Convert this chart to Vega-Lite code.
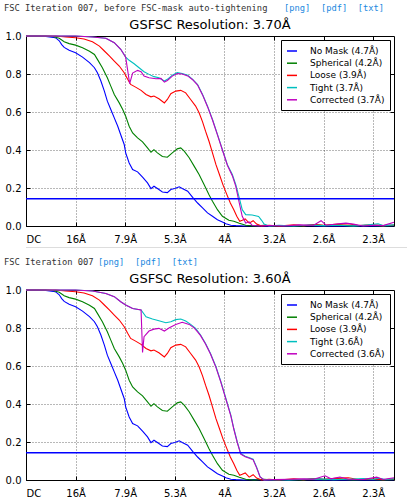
{
  "$schema": "https://vega.github.io/schema/vega-lite/v6.json",
  "background": "white",
  "padding": {"left": 4, "top": 4, "right": 0, "bottom": 0},
  "datasets": {
    "common": [
      {"s":"No Mask (4.7Å)","u":0,"v":1.0},{"s":"No Mask (4.7Å)","u":0.2,"v":1.0},{"s":"No Mask (4.7Å)","u":0.4,"v":0.998},{"s":"No Mask (4.7Å)","u":0.55,"v":0.993},{"s":"No Mask (4.7Å)","u":0.6,"v":0.99},{"s":"No Mask (4.7Å)","u":0.67,"v":0.975},{"s":"No Mask (4.7Å)","u":0.72,"v":0.955},{"s":"No Mask (4.7Å)","u":0.77,"v":0.94},{"s":"No Mask (4.7Å)","u":0.87,"v":0.925},{"s":"No Mask (4.7Å)","u":1.0,"v":0.912},{"s":"No Mask (4.7Å)","u":1.14,"v":0.889},{"s":"No Mask (4.7Å)","u":1.28,"v":0.86},{"s":"No Mask (4.7Å)","u":1.38,"v":0.833},{"s":"No Mask (4.7Å)","u":1.44,"v":0.807},{"s":"No Mask (4.7Å)","u":1.51,"v":0.763},{"s":"No Mask (4.7Å)","u":1.58,"v":0.71},{"s":"No Mask (4.7Å)","u":1.64,"v":0.657},{"s":"No Mask (4.7Å)","u":1.71,"v":0.613},{"s":"No Mask (4.7Å)","u":1.78,"v":0.569},{"s":"No Mask (4.7Å)","u":1.85,"v":0.525},{"s":"No Mask (4.7Å)","u":1.91,"v":0.48},{"s":"No Mask (4.7Å)","u":1.98,"v":0.429},{"s":"No Mask (4.7Å)","u":2.01,"v":0.385},{"s":"No Mask (4.7Å)","u":2.08,"v":0.332},{"s":"No Mask (4.7Å)","u":2.15,"v":0.297},{"s":"No Mask (4.7Å)","u":2.25,"v":0.285},{"s":"No Mask (4.7Å)","u":2.35,"v":0.257},{"s":"No Mask (4.7Å)","u":2.45,"v":0.227},{"s":"No Mask (4.7Å)","u":2.52,"v":0.197},{"s":"No Mask (4.7Å)","u":2.58,"v":0.209},{"s":"No Mask (4.7Å)","u":2.65,"v":0.197},{"s":"No Mask (4.7Å)","u":2.75,"v":0.179},{"s":"No Mask (4.7Å)","u":2.85,"v":0.176},{"s":"No Mask (4.7Å)","u":2.92,"v":0.192},{"s":"No Mask (4.7Å)","u":3.0,"v":0.197},{"s":"No Mask (4.7Å)","u":3.09,"v":0.206},{"s":"No Mask (4.7Å)","u":3.15,"v":0.197},{"s":"No Mask (4.7Å)","u":3.26,"v":0.183},{"s":"No Mask (4.7Å)","u":3.36,"v":0.151},{"s":"No Mask (4.7Å)","u":3.46,"v":0.121},{"s":"No Mask (4.7Å)","u":3.56,"v":0.095},{"s":"No Mask (4.7Å)","u":3.66,"v":0.069},{"s":"No Mask (4.7Å)","u":3.76,"v":0.051},{"s":"No Mask (4.7Å)","u":3.86,"v":0.033},{"s":"No Mask (4.7Å)","u":3.96,"v":0.021},{"s":"No Mask (4.7Å)","u":4.03,"v":0.012},{"s":"No Mask (4.7Å)","u":4.13,"v":0.004},{"s":"No Mask (4.7Å)","u":4.23,"v":0.002},{"s":"No Mask (4.7Å)","u":4.4,"v":0.0},{"s":"No Mask (4.7Å)","u":4.6,"v":0.003},{"s":"No Mask (4.7Å)","u":4.8,"v":0.0},{"s":"No Mask (4.7Å)","u":5.0,"v":0.002},{"s":"No Mask (4.7Å)","u":5.3,"v":0.0},{"s":"No Mask (4.7Å)","u":5.6,"v":0.003},{"s":"No Mask (4.7Å)","u":5.9,"v":0.0},{"s":"No Mask (4.7Å)","u":6.2,"v":0.002},{"s":"No Mask (4.7Å)","u":6.5,"v":0.0},{"s":"No Mask (4.7Å)","u":6.8,"v":0.002},{"s":"No Mask (4.7Å)","u":7.1,"v":0.0},{"s":"No Mask (4.7Å)","u":7.42,"v":0.002},
      {"s":"Spherical (4.2Å)","u":0,"v":1.0},{"s":"Spherical (4.2Å)","u":0.4,"v":1.0},{"s":"Spherical (4.2Å)","u":0.54,"v":0.997},{"s":"Spherical (4.2Å)","u":0.67,"v":0.988},{"s":"Spherical (4.2Å)","u":0.77,"v":0.97},{"s":"Spherical (4.2Å)","u":0.87,"v":0.96},{"s":"Spherical (4.2Å)","u":1.0,"v":0.952},{"s":"Spherical (4.2Å)","u":1.14,"v":0.938},{"s":"Spherical (4.2Å)","u":1.28,"v":0.92},{"s":"Spherical (4.2Å)","u":1.38,"v":0.903},{"s":"Spherical (4.2Å)","u":1.44,"v":0.877},{"s":"Spherical (4.2Å)","u":1.54,"v":0.833},{"s":"Spherical (4.2Å)","u":1.64,"v":0.78},{"s":"Spherical (4.2Å)","u":1.71,"v":0.736},{"s":"Spherical (4.2Å)","u":1.78,"v":0.692},{"s":"Spherical (4.2Å)","u":1.88,"v":0.648},{"s":"Spherical (4.2Å)","u":1.95,"v":0.613},{"s":"Spherical (4.2Å)","u":2.01,"v":0.578},{"s":"Spherical (4.2Å)","u":2.08,"v":0.525},{"s":"Spherical (4.2Å)","u":2.15,"v":0.49},{"s":"Spherical (4.2Å)","u":2.25,"v":0.464},{"s":"Spherical (4.2Å)","u":2.35,"v":0.443},{"s":"Spherical (4.2Å)","u":2.45,"v":0.411},{"s":"Spherical (4.2Å)","u":2.52,"v":0.388},{"s":"Spherical (4.2Å)","u":2.58,"v":0.402},{"s":"Spherical (4.2Å)","u":2.65,"v":0.385},{"s":"Spherical (4.2Å)","u":2.75,"v":0.366},{"s":"Spherical (4.2Å)","u":2.85,"v":0.362},{"s":"Spherical (4.2Å)","u":2.95,"v":0.385},{"s":"Spherical (4.2Å)","u":3.05,"v":0.406},{"s":"Spherical (4.2Å)","u":3.12,"v":0.411},{"s":"Spherical (4.2Å)","u":3.19,"v":0.394},{"s":"Spherical (4.2Å)","u":3.29,"v":0.359},{"s":"Spherical (4.2Å)","u":3.39,"v":0.315},{"s":"Spherical (4.2Å)","u":3.49,"v":0.271},{"s":"Spherical (4.2Å)","u":3.59,"v":0.218},{"s":"Spherical (4.2Å)","u":3.69,"v":0.165},{"s":"Spherical (4.2Å)","u":3.76,"v":0.13},{"s":"Spherical (4.2Å)","u":3.86,"v":0.086},{"s":"Spherical (4.2Å)","u":3.96,"v":0.051},{"s":"Spherical (4.2Å)","u":4.09,"v":0.03},{"s":"Spherical (4.2Å)","u":4.19,"v":0.025},{"s":"Spherical (4.2Å)","u":4.3,"v":0.014},{"s":"Spherical (4.2Å)","u":4.43,"v":0.004},{"s":"Spherical (4.2Å)","u":4.6,"v":0.0},{"s":"Spherical (4.2Å)","u":4.8,"v":0.004},{"s":"Spherical (4.2Å)","u":5.0,"v":0.0},{"s":"Spherical (4.2Å)","u":5.3,"v":0.003},{"s":"Spherical (4.2Å)","u":5.6,"v":0.0},{"s":"Spherical (4.2Å)","u":5.8,"v":0.008},{"s":"Spherical (4.2Å)","u":6.0,"v":0.002},{"s":"Spherical (4.2Å)","u":6.3,"v":0.006},{"s":"Spherical (4.2Å)","u":6.6,"v":0.0},{"s":"Spherical (4.2Å)","u":6.9,"v":0.004},{"s":"Spherical (4.2Å)","u":7.2,"v":0.0},{"s":"Spherical (4.2Å)","u":7.42,"v":0.003},
      {"s":"Loose (3.9Å)","u":0,"v":1.0},{"s":"Loose (3.9Å)","u":0.6,"v":1.0},{"s":"Loose (3.9Å)","u":0.8,"v":0.995},{"s":"Loose (3.9Å)","u":1.0,"v":0.991},{"s":"Loose (3.9Å)","u":1.17,"v":0.984},{"s":"Loose (3.9Å)","u":1.34,"v":0.97},{"s":"Loose (3.9Å)","u":1.48,"v":0.947},{"s":"Loose (3.9Å)","u":1.58,"v":0.921},{"s":"Loose (3.9Å)","u":1.68,"v":0.895},{"s":"Loose (3.9Å)","u":1.78,"v":0.868},{"s":"Loose (3.9Å)","u":1.88,"v":0.842},{"s":"Loose (3.9Å)","u":1.98,"v":0.807},{"s":"Loose (3.9Å)","u":2.05,"v":0.772},{"s":"Loose (3.9Å)","u":2.11,"v":0.745},{"s":"Loose (3.9Å)","u":2.21,"v":0.731},{"s":"Loose (3.9Å)","u":2.32,"v":0.714},{"s":"Loose (3.9Å)","u":2.42,"v":0.692},{"s":"Loose (3.9Å)","u":2.52,"v":0.68},{"s":"Loose (3.9Å)","u":2.58,"v":0.684},{"s":"Loose (3.9Å)","u":2.68,"v":0.67},{"s":"Loose (3.9Å)","u":2.79,"v":0.648},{"s":"Loose (3.9Å)","u":2.85,"v":0.666},{"s":"Loose (3.9Å)","u":2.92,"v":0.696},{"s":"Loose (3.9Å)","u":3.02,"v":0.71},{"s":"Loose (3.9Å)","u":3.12,"v":0.714},{"s":"Loose (3.9Å)","u":3.22,"v":0.701},{"s":"Loose (3.9Å)","u":3.32,"v":0.666},{"s":"Loose (3.9Å)","u":3.42,"v":0.631},{"s":"Loose (3.9Å)","u":3.49,"v":0.596},{"s":"Loose (3.9Å)","u":3.56,"v":0.548},{"s":"Loose (3.9Å)","u":3.62,"v":0.499},{"s":"Loose (3.9Å)","u":3.69,"v":0.446},{"s":"Loose (3.9Å)","u":3.76,"v":0.385},{"s":"Loose (3.9Å)","u":3.83,"v":0.323},{"s":"Loose (3.9Å)","u":3.9,"v":0.271},{"s":"Loose (3.9Å)","u":3.97,"v":0.218},{"s":"Loose (3.9Å)","u":4.05,"v":0.165},{"s":"Loose (3.9Å)","u":4.12,"v":0.121},{"s":"Loose (3.9Å)","u":4.19,"v":0.086},{"s":"Loose (3.9Å)","u":4.25,"v":0.051},{"s":"Loose (3.9Å)","u":4.31,"v":0.025},{"s":"Loose (3.9Å)","u":4.36,"v":0.03},{"s":"Loose (3.9Å)","u":4.42,"v":0.037},{"s":"Loose (3.9Å)","u":4.5,"v":0.015},{"s":"Loose (3.9Å)","u":4.58,"v":0.028},{"s":"Loose (3.9Å)","u":4.65,"v":0.01},{"s":"Loose (3.9Å)","u":4.75,"v":0.0},{"s":"Loose (3.9Å)","u":4.9,"v":0.004},{"s":"Loose (3.9Å)","u":5.1,"v":0.0},{"s":"Loose (3.9Å)","u":5.4,"v":0.006},{"s":"Loose (3.9Å)","u":5.6,"v":0.002},{"s":"Loose (3.9Å)","u":5.85,"v":0.008},{"s":"Loose (3.9Å)","u":6.0,"v":0.004},{"s":"Loose (3.9Å)","u":6.3,"v":0.01},{"s":"Loose (3.9Å)","u":6.5,"v":0.012},{"s":"Loose (3.9Å)","u":6.7,"v":0.003},{"s":"Loose (3.9Å)","u":7.0,"v":0.006},{"s":"Loose (3.9Å)","u":7.2,"v":0.002},{"s":"Loose (3.9Å)","u":7.42,"v":0.005}
    ],
    "p1": [
      {"s":"Tight (3.7Å)","u":0,"v":1.0},{"s":"Tight (3.7Å)","u":1.0,"v":1.0},{"s":"Tight (3.7Å)","u":1.34,"v":0.995},{"s":"Tight (3.7Å)","u":1.61,"v":0.988},{"s":"Tight (3.7Å)","u":1.78,"v":0.965},{"s":"Tight (3.7Å)","u":1.91,"v":0.93},{"s":"Tight (3.7Å)","u":2.01,"v":0.889},{"s":"Tight (3.7Å)","u":2.08,"v":0.872},{"s":"Tight (3.7Å)","u":2.18,"v":0.854},{"s":"Tight (3.7Å)","u":2.28,"v":0.833},{"s":"Tight (3.7Å)","u":2.38,"v":0.812},{"s":"Tight (3.7Å)","u":2.48,"v":0.798},{"s":"Tight (3.7Å)","u":2.58,"v":0.786},{"s":"Tight (3.7Å)","u":2.68,"v":0.78},{"s":"Tight (3.7Å)","u":2.79,"v":0.763},{"s":"Tight (3.7Å)","u":2.85,"v":0.772},{"s":"Tight (3.7Å)","u":2.95,"v":0.794},{"s":"Tight (3.7Å)","u":3.05,"v":0.807},{"s":"Tight (3.7Å)","u":3.15,"v":0.803},{"s":"Tight (3.7Å)","u":3.26,"v":0.794},{"s":"Tight (3.7Å)","u":3.36,"v":0.772},{"s":"Tight (3.7Å)","u":3.46,"v":0.745},{"s":"Tight (3.7Å)","u":3.56,"v":0.692},{"s":"Tight (3.7Å)","u":3.66,"v":0.631},{"s":"Tight (3.7Å)","u":3.76,"v":0.561},{"s":"Tight (3.7Å)","u":3.86,"v":0.482},{"s":"Tight (3.7Å)","u":3.96,"v":0.402},{"s":"Tight (3.7Å)","u":4.06,"v":0.323},{"s":"Tight (3.7Å)","u":4.16,"v":0.271},{"s":"Tight (3.7Å)","u":4.23,"v":0.218},{"s":"Tight (3.7Å)","u":4.3,"v":0.148},{"s":"Tight (3.7Å)","u":4.36,"v":0.086},{"s":"Tight (3.7Å)","u":4.43,"v":0.06},{"s":"Tight (3.7Å)","u":4.56,"v":0.058},{"s":"Tight (3.7Å)","u":4.69,"v":0.05},{"s":"Tight (3.7Å)","u":4.75,"v":0.03},{"s":"Tight (3.7Å)","u":4.8,"v":0.01},{"s":"Tight (3.7Å)","u":4.9,"v":0.0},{"s":"Tight (3.7Å)","u":5.1,"v":0.004},{"s":"Tight (3.7Å)","u":5.4,"v":0.0},{"s":"Tight (3.7Å)","u":5.7,"v":0.005},{"s":"Tight (3.7Å)","u":6.0,"v":0.002},{"s":"Tight (3.7Å)","u":6.3,"v":0.004},{"s":"Tight (3.7Å)","u":6.6,"v":0.0},{"s":"Tight (3.7Å)","u":6.9,"v":0.006},{"s":"Tight (3.7Å)","u":7.1,"v":0.012},{"s":"Tight (3.7Å)","u":7.2,"v":0.002},{"s":"Tight (3.7Å)","u":7.42,"v":0.006},
      {"s":"Corrected (3.7Å)","u":0,"v":1.0},{"s":"Corrected (3.7Å)","u":1.0,"v":1.0},{"s":"Corrected (3.7Å)","u":1.34,"v":0.995},{"s":"Corrected (3.7Å)","u":1.61,"v":0.988},{"s":"Corrected (3.7Å)","u":1.78,"v":0.965},{"s":"Corrected (3.7Å)","u":1.91,"v":0.93},{"s":"Corrected (3.7Å)","u":2.01,"v":0.889},{"s":"Corrected (3.7Å)","u":2.09,"v":0.749},{"s":"Corrected (3.7Å)","u":2.15,"v":0.805},{"s":"Corrected (3.7Å)","u":2.25,"v":0.819},{"s":"Corrected (3.7Å)","u":2.32,"v":0.812},{"s":"Corrected (3.7Å)","u":2.38,"v":0.789},{"s":"Corrected (3.7Å)","u":2.48,"v":0.78},{"s":"Corrected (3.7Å)","u":2.62,"v":0.775},{"s":"Corrected (3.7Å)","u":2.72,"v":0.777},{"s":"Corrected (3.7Å)","u":2.79,"v":0.757},{"s":"Corrected (3.7Å)","u":2.85,"v":0.766},{"s":"Corrected (3.7Å)","u":2.95,"v":0.789},{"s":"Corrected (3.7Å)","u":3.05,"v":0.802},{"s":"Corrected (3.7Å)","u":3.15,"v":0.8},{"s":"Corrected (3.7Å)","u":3.26,"v":0.79},{"s":"Corrected (3.7Å)","u":3.36,"v":0.77},{"s":"Corrected (3.7Å)","u":3.46,"v":0.742},{"s":"Corrected (3.7Å)","u":3.56,"v":0.69},{"s":"Corrected (3.7Å)","u":3.66,"v":0.628},{"s":"Corrected (3.7Å)","u":3.76,"v":0.558},{"s":"Corrected (3.7Å)","u":3.86,"v":0.48},{"s":"Corrected (3.7Å)","u":3.96,"v":0.4},{"s":"Corrected (3.7Å)","u":4.06,"v":0.32},{"s":"Corrected (3.7Å)","u":4.16,"v":0.265},{"s":"Corrected (3.7Å)","u":4.23,"v":0.209},{"s":"Corrected (3.7Å)","u":4.3,"v":0.121},{"s":"Corrected (3.7Å)","u":4.36,"v":0.051},{"s":"Corrected (3.7Å)","u":4.43,"v":0.016},{"s":"Corrected (3.7Å)","u":4.5,"v":0.022},{"s":"Corrected (3.7Å)","u":4.56,"v":0.004},{"s":"Corrected (3.7Å)","u":4.7,"v":0.0},{"s":"Corrected (3.7Å)","u":4.9,"v":0.003},{"s":"Corrected (3.7Å)","u":5.2,"v":0.0},{"s":"Corrected (3.7Å)","u":5.5,"v":0.006},{"s":"Corrected (3.7Å)","u":5.8,"v":0.004},{"s":"Corrected (3.7Å)","u":5.95,"v":0.028},{"s":"Corrected (3.7Å)","u":6.05,"v":0.004},{"s":"Corrected (3.7Å)","u":6.3,"v":0.012},{"s":"Corrected (3.7Å)","u":6.45,"v":0.015},{"s":"Corrected (3.7Å)","u":6.6,"v":0.01},{"s":"Corrected (3.7Å)","u":6.8,"v":0.0},{"s":"Corrected (3.7Å)","u":7.0,"v":0.004},{"s":"Corrected (3.7Å)","u":7.2,"v":0.002},{"s":"Corrected (3.7Å)","u":7.42,"v":0.02}
    ],
    "p2": [
      {"s":"Tight (3.6Å)","u":0,"v":1.0},{"s":"Tight (3.6Å)","u":1.0,"v":1.0},{"s":"Tight (3.6Å)","u":1.34,"v":0.995},{"s":"Tight (3.6Å)","u":1.61,"v":0.982},{"s":"Tight (3.6Å)","u":1.78,"v":0.965},{"s":"Tight (3.6Å)","u":1.91,"v":0.938},{"s":"Tight (3.6Å)","u":2.01,"v":0.921},{"s":"Tight (3.6Å)","u":2.15,"v":0.903},{"s":"Tight (3.6Å)","u":2.32,"v":0.895},{"s":"Tight (3.6Å)","u":2.42,"v":0.859},{"s":"Tight (3.6Å)","u":2.55,"v":0.847},{"s":"Tight (3.6Å)","u":2.68,"v":0.838},{"s":"Tight (3.6Å)","u":2.82,"v":0.828},{"s":"Tight (3.6Å)","u":2.92,"v":0.833},{"s":"Tight (3.6Å)","u":3.02,"v":0.844},{"s":"Tight (3.6Å)","u":3.12,"v":0.847},{"s":"Tight (3.6Å)","u":3.22,"v":0.837},{"s":"Tight (3.6Å)","u":3.32,"v":0.819},{"s":"Tight (3.6Å)","u":3.42,"v":0.798},{"s":"Tight (3.6Å)","u":3.52,"v":0.763},{"s":"Tight (3.6Å)","u":3.62,"v":0.719},{"s":"Tight (3.6Å)","u":3.72,"v":0.666},{"s":"Tight (3.6Å)","u":3.83,"v":0.596},{"s":"Tight (3.6Å)","u":3.93,"v":0.517},{"s":"Tight (3.6Å)","u":4.03,"v":0.429},{"s":"Tight (3.6Å)","u":4.13,"v":0.341},{"s":"Tight (3.6Å)","u":4.19,"v":0.271},{"s":"Tight (3.6Å)","u":4.26,"v":0.2},{"s":"Tight (3.6Å)","u":4.33,"v":0.139},{"s":"Tight (3.6Å)","u":4.42,"v":0.125},{"s":"Tight (3.6Å)","u":4.52,"v":0.116},{"s":"Tight (3.6Å)","u":4.58,"v":0.11},{"s":"Tight (3.6Å)","u":4.65,"v":0.068},{"s":"Tight (3.6Å)","u":4.72,"v":0.016},{"s":"Tight (3.6Å)","u":4.8,"v":0.0},{"s":"Tight (3.6Å)","u":5.0,"v":0.003},{"s":"Tight (3.6Å)","u":5.3,"v":0.0},{"s":"Tight (3.6Å)","u":5.6,"v":0.004},{"s":"Tight (3.6Å)","u":5.9,"v":0.006},{"s":"Tight (3.6Å)","u":6.2,"v":0.002},{"s":"Tight (3.6Å)","u":6.5,"v":0.004},{"s":"Tight (3.6Å)","u":6.8,"v":0.008},{"s":"Tight (3.6Å)","u":7.0,"v":0.003},{"s":"Tight (3.6Å)","u":7.1,"v":0.01},{"s":"Tight (3.6Å)","u":7.25,"v":0.003},{"s":"Tight (3.6Å)","u":7.42,"v":0.006},
      {"s":"Corrected (3.6Å)","u":0,"v":1.0},{"s":"Corrected (3.6Å)","u":1.0,"v":1.0},{"s":"Corrected (3.6Å)","u":1.34,"v":0.995},{"s":"Corrected (3.6Å)","u":1.61,"v":0.982},{"s":"Corrected (3.6Å)","u":1.78,"v":0.965},{"s":"Corrected (3.6Å)","u":1.91,"v":0.938},{"s":"Corrected (3.6Å)","u":2.01,"v":0.921},{"s":"Corrected (3.6Å)","u":2.15,"v":0.903},{"s":"Corrected (3.6Å)","u":2.32,"v":0.895},{"s":"Corrected (3.6Å)","u":2.35,"v":0.671},{"s":"Corrected (3.6Å)","u":2.38,"v":0.754},{"s":"Corrected (3.6Å)","u":2.48,"v":0.784},{"s":"Corrected (3.6Å)","u":2.58,"v":0.794},{"s":"Corrected (3.6Å)","u":2.68,"v":0.798},{"s":"Corrected (3.6Å)","u":2.79,"v":0.784},{"s":"Corrected (3.6Å)","u":2.89,"v":0.801},{"s":"Corrected (3.6Å)","u":3.02,"v":0.819},{"s":"Corrected (3.6Å)","u":3.15,"v":0.83},{"s":"Corrected (3.6Å)","u":3.29,"v":0.819},{"s":"Corrected (3.6Å)","u":3.39,"v":0.801},{"s":"Corrected (3.6Å)","u":3.46,"v":0.78},{"s":"Corrected (3.6Å)","u":3.52,"v":0.76},{"s":"Corrected (3.6Å)","u":3.62,"v":0.716},{"s":"Corrected (3.6Å)","u":3.72,"v":0.663},{"s":"Corrected (3.6Å)","u":3.83,"v":0.593},{"s":"Corrected (3.6Å)","u":3.93,"v":0.514},{"s":"Corrected (3.6Å)","u":4.03,"v":0.426},{"s":"Corrected (3.6Å)","u":4.13,"v":0.338},{"s":"Corrected (3.6Å)","u":4.19,"v":0.268},{"s":"Corrected (3.6Å)","u":4.26,"v":0.197},{"s":"Corrected (3.6Å)","u":4.33,"v":0.136},{"s":"Corrected (3.6Å)","u":4.42,"v":0.122},{"s":"Corrected (3.6Å)","u":4.52,"v":0.113},{"s":"Corrected (3.6Å)","u":4.58,"v":0.106},{"s":"Corrected (3.6Å)","u":4.65,"v":0.064},{"s":"Corrected (3.6Å)","u":4.72,"v":0.016},{"s":"Corrected (3.6Å)","u":4.8,"v":0.0},{"s":"Corrected (3.6Å)","u":5.0,"v":0.002},{"s":"Corrected (3.6Å)","u":5.3,"v":0.004},{"s":"Corrected (3.6Å)","u":5.6,"v":0.006},{"s":"Corrected (3.6Å)","u":5.8,"v":0.004},{"s":"Corrected (3.6Å)","u":6.03,"v":0.022},{"s":"Corrected (3.6Å)","u":6.15,"v":0.006},{"s":"Corrected (3.6Å)","u":6.33,"v":0.016},{"s":"Corrected (3.6Å)","u":6.5,"v":0.004},{"s":"Corrected (3.6Å)","u":6.8,"v":0.003},{"s":"Corrected (3.6Å)","u":7.07,"v":0.015},{"s":"Corrected (3.6Å)","u":7.2,"v":0.003},{"s":"Corrected (3.6Å)","u":7.42,"v":0.012}
    ],
    "thr": [{"t": 0.143}]
  },
  "config": {
    "view": {"stroke": null},
    "title": {"font": "DejaVu Sans Mono", "fontSize": 8.75, "fontWeight": "normal", "anchor": "start", "frame": "group", "offset": 0, "color": "#333333"},
    "axis": {"labelFont": "DejaVu Sans", "labelFontSize": 10, "labelColor": "#000", "tickColor": "#000", "domain": false, "gridColor": "#000", "gridDash": [1, 2], "gridOpacity": 0.7, "gridWidth": 0.8, "title": null},
    "legend": {"orient": "top-right", "offset": 4, "title": null, "fillColor": "white", "strokeColor": "#000", "padding": 5, "symbolType": "stroke", "symbolStrokeWidth": 1.5, "symbolSize": 100, "labelFont": "DejaVu Sans", "labelFontSize": 9, "labelColor": "#000", "rowPadding": 1.2, "labelOffset": 12, "cornerRadius": 0}
  },
  "resolve": {"scale": {"color": "independent"}, "legend": {"color": "independent"}},
  "spacing": 10,
  "vconcat": [
    {
      "spacing": 2,
      "resolve": {"scale": {"color": "independent"}, "legend": {"color": "independent"}},
      "vconcat": [
        {
          "spacing": 0,
          "resolve": {"scale": {"color": "independent"}, "legend": {"color": "independent"}},
          "vconcat": [
            {
              "spacing": 16,
              "hconcat": [
                {"width": 1, "height": 1, "data": {"values": []}, "mark": "point", "title": {"text": "FSC Iteration 007, before FSC-mask auto-tightening", "dx": -22}},
                {"width": 1, "height": 1, "data": {"values": []}, "mark": "point", "title": {"text": "[png]\u00a0\u00a0[pdf]\u00a0\u00a0[txt]", "color": "#1a88e0"}}
              ]
            },
            {
              "width": 368, "height": 190,
              "view": {"stroke": "#000", "strokeWidth": 1},
              "title": {"text": "GSFSC Resolution: 3.70Å", "font": "DejaVu Sans", "fontSize": 13, "fontWeight": "normal", "color": "#000", "anchor": "middle", "offset": -1},
              "layer": [
                {
                  "data": {"name": "common"},
                  "mark": {"type": "line", "strokeWidth": 1.1},
                  "encoding": {
                    "x": {"field": "u", "type": "quantitative", "scale": {"domain": [0, 7.42], "nice": false, "zero": false}, "axis": {"values": [0, 1, 2, 3, 4, 5, 6, 7], "labelExpr": "['DC','16Å','7.9Å','5.3Å','4Å','3.2Å','2.6Å','2.3Å'][datum.value]", "tickSize": -4, "labelPadding": 12}},
                    "y": {"field": "v", "type": "quantitative", "scale": {"domain": [0, 1], "nice": false}, "axis": {"values": [0, 0.2, 0.4, 0.6, 0.8, 1.0], "format": ".1f", "tickSize": -4, "labelPadding": 9}},
                    "color": {"field": "s", "type": "nominal", "scale": {"domain": ["No Mask (4.7Å)", "Spherical (4.2Å)", "Loose (3.9Å)", "Tight (3.7Å)", "Corrected (3.7Å)"], "range": ["#0000ff", "#008000", "#ff0000", "#00bfbf", "#bf00bf"]}}
                  }
                },
                {
                  "data": {"name": "p1"},
                  "mark": {"type": "line", "strokeWidth": 1.1},
                  "encoding": {
                    "x": {"field": "u", "type": "quantitative", "axis": {"orient": "top", "values": [1, 2, 3, 4, 5, 6, 7], "labels": false, "grid": false, "tickSize": -4}},
                    "y": {"field": "v", "type": "quantitative", "axis": {"orient": "right", "values": [0.2, 0.4, 0.6, 0.8], "labels": false, "grid": false, "tickSize": -4}},
                    "color": {"field": "s", "type": "nominal"}
                  }
                },
                {
                  "data": {"name": "thr"},
                  "mark": {"type": "rule", "color": "#0000ff", "strokeWidth": 1.5},
                  "encoding": {"y": {"field": "t", "type": "quantitative", "axis": null}}
                }
              ],
              "resolve": {"axis": {"x": "independent", "y": "independent"}}
            }
          ]
        },
        {"width": 407, "height": 1, "data": {"values": []}, "mark": "point", "view": {"fill": "#dddddd", "stroke": null}}
      ]
    },
    {
      "spacing": 0,
      "resolve": {"scale": {"color": "independent"}, "legend": {"color": "independent"}},
      "vconcat": [
        {
          "spacing": 4,
          "hconcat": [
            {"width": 1, "height": 1, "data": {"values": []}, "mark": "point", "title": {"text": "FSC Iteration 007", "dx": -22}},
            {"width": 1, "height": 1, "data": {"values": []}, "mark": "point", "title": {"text": "[png]\u00a0\u00a0[pdf]\u00a0\u00a0[txt]", "color": "#1a88e0"}}
          ]
        },
        {
          "width": 368, "height": 190,
          "view": {"stroke": "#000", "strokeWidth": 1},
          "title": {"text": "GSFSC Resolution: 3.60Å", "font": "DejaVu Sans", "fontSize": 13, "fontWeight": "normal", "color": "#000", "anchor": "middle", "offset": -1},
          "layer": [
            {
              "data": {"name": "common"},
              "mark": {"type": "line", "strokeWidth": 1.1},
              "encoding": {
                "x": {"field": "u", "type": "quantitative", "scale": {"domain": [0, 7.42], "nice": false, "zero": false}, "axis": {"values": [0, 1, 2, 3, 4, 5, 6, 7], "labelExpr": "['DC','16Å','7.9Å','5.3Å','4Å','3.2Å','2.6Å','2.3Å'][datum.value]", "tickSize": -4, "labelPadding": 12}},
                "y": {"field": "v", "type": "quantitative", "scale": {"domain": [0, 1], "nice": false}, "axis": {"values": [0, 0.2, 0.4, 0.6, 0.8, 1.0], "format": ".1f", "tickSize": -4, "labelPadding": 9}},
                "color": {"field": "s", "type": "nominal", "scale": {"domain": ["No Mask (4.7Å)", "Spherical (4.2Å)", "Loose (3.9Å)", "Tight (3.6Å)", "Corrected (3.6Å)"], "range": ["#0000ff", "#008000", "#ff0000", "#00bfbf", "#bf00bf"]}}
              }
            },
            {
              "data": {"name": "p2"},
              "mark": {"type": "line", "strokeWidth": 1.1},
              "encoding": {
                "x": {"field": "u", "type": "quantitative", "axis": {"orient": "top", "values": [1, 2, 3, 4, 5, 6, 7], "labels": false, "grid": false, "tickSize": -4}},
                "y": {"field": "v", "type": "quantitative", "axis": {"orient": "right", "values": [0.2, 0.4, 0.6, 0.8], "labels": false, "grid": false, "tickSize": -4}},
                "color": {"field": "s", "type": "nominal"}
              }
            },
            {
              "data": {"name": "thr"},
              "mark": {"type": "rule", "color": "#0000ff", "strokeWidth": 1.5},
              "encoding": {"y": {"field": "t", "type": "quantitative", "axis": null}}
            }
          ],
          "resolve": {"axis": {"x": "independent", "y": "independent"}}
        }
      ]
    }
  ]
}
